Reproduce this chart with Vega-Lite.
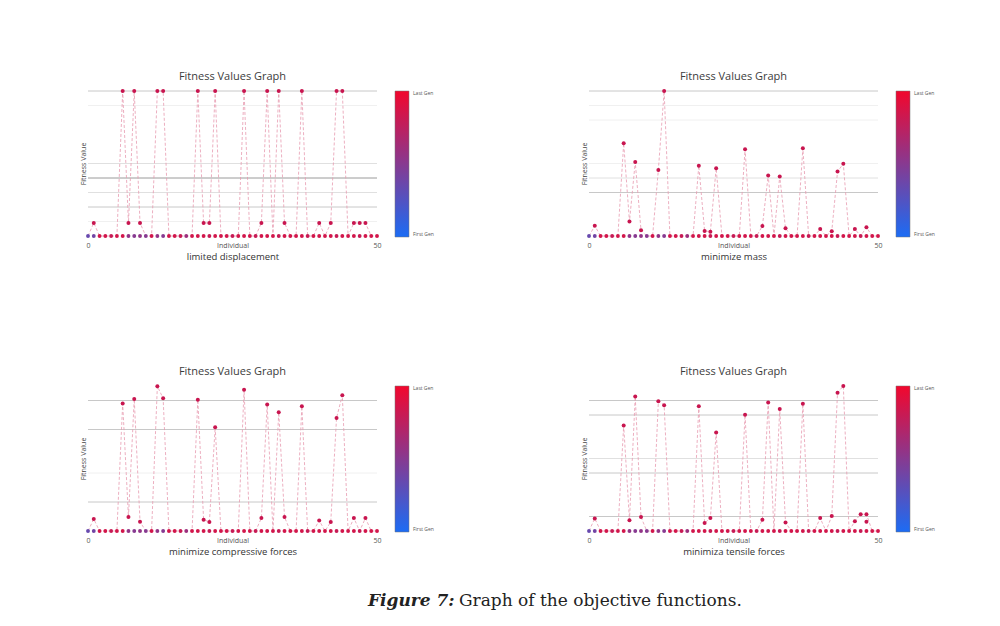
{
 "$schema": "https://vega.github.io/schema/vega-lite/v6.json",
 "background": "white",
 "padding": {"left": 79, "top": 71, "right": 10, "bottom": 10},
 "config": {"view": {"stroke": null}, "font": "Open Sans"},
 "datasets": {
  "ind": [
   {"x":0,"g":0.35,"a":0,"b":0,"c":0,"d":0},
   {"x":1,"g":0.4,"a":0.09,"b":0.07,"c":0.082,"d":0.087},
   {"x":2,"g":0.85,"a":0,"b":0,"c":0,"d":0},
   {"x":3,"g":0.85,"a":0,"b":0,"c":0,"d":0},
   {"x":4,"g":0.8,"a":0,"b":0,"c":0,"d":0},
   {"x":5,"g":0.85,"a":0,"b":0,"c":0,"d":0},
   {"x":6,"g":0.85,"a":1,"b":0.64,"c":0.879,"d":0.728},
   {"x":7,"g":0.55,"a":0.09,"b":0.1,"c":0.096,"d":0.075},
   {"x":8,"g":0.5,"a":1,"b":0.51,"c":0.911,"d":0.927},
   {"x":9,"g":0.55,"a":0.09,"b":0.04,"c":0.064,"d":0.096},
   {"x":10,"g":0.5,"a":0,"b":0,"c":0,"d":0},
   {"x":11,"g":0.85,"a":0,"b":0,"c":0,"d":0},
   {"x":12,"g":0.55,"a":1,"b":0.455,"c":0.998,"d":0.895},
   {"x":13,"g":0.5,"a":1,"b":1,"c":0.915,"d":0.868},
   {"x":14,"g":0.85,"a":0,"b":0,"c":0,"d":0},
   {"x":15,"g":0.85,"a":0,"b":0,"c":0,"d":0},
   {"x":16,"g":0.8,"a":0,"b":0,"c":0,"d":0},
   {"x":17,"g":0.6,"a":0,"b":0,"c":0,"d":0},
   {"x":18,"g":0.85,"a":0,"b":0,"c":0,"d":0},
   {"x":19,"g":0.85,"a":1,"b":0.485,"c":0.906,"d":0.861},
   {"x":20,"g":0.85,"a":0.09,"b":0.035,"c":0.078,"d":0.055},
   {"x":21,"g":0.8,"a":0.09,"b":0.03,"c":0.062,"d":0.089},
   {"x":22,"g":0.85,"a":1,"b":0.467,"c":0.716,"d":0.68},
   {"x":23,"g":0.85,"a":0,"b":0,"c":0,"d":0},
   {"x":24,"g":0.85,"a":0,"b":0,"c":0,"d":0},
   {"x":25,"g":0.8,"a":0,"b":0,"c":0,"d":0},
   {"x":26,"g":0.85,"a":0,"b":0,"c":0,"d":0},
   {"x":27,"g":0.85,"a":1,"b":0.598,"c":0.975,"d":0.801},
   {"x":28,"g":0.85,"a":0,"b":0,"c":0,"d":0},
   {"x":29,"g":0.8,"a":0,"b":0,"c":0,"d":0},
   {"x":30,"g":0.85,"a":0.09,"b":0.069,"c":0.089,"d":0.078},
   {"x":31,"g":0.85,"a":1,"b":0.418,"c":0.872,"d":0.886},
   {"x":32,"g":0.85,"a":0,"b":0,"c":0,"d":0},
   {"x":33,"g":0.8,"a":1,"b":0.411,"c":0.819,"d":0.842},
   {"x":34,"g":0.85,"a":0.09,"b":0.053,"c":0.096,"d":0.059},
   {"x":35,"g":0.85,"a":0,"b":0,"c":0,"d":0},
   {"x":36,"g":0.85,"a":0,"b":0,"c":0,"d":0},
   {"x":37,"g":0.85,"a":1,"b":0.605,"c":0.86,"d":0.877},
   {"x":38,"g":0.8,"a":0,"b":0,"c":0,"d":0},
   {"x":39,"g":0.85,"a":0,"b":0,"c":0,"d":0},
   {"x":40,"g":0.85,"a":0.09,"b":0.048,"c":0.073,"d":0.089},
   {"x":41,"g":0.85,"a":0,"b":0,"c":0,"d":0},
   {"x":42,"g":0.85,"a":0.09,"b":0.032,"c":0.062,"d":0.103},
   {"x":43,"g":0.8,"a":1,"b":0.444,"c":0.78,"d":0.954},
   {"x":44,"g":0.85,"a":1,"b":0.499,"c":0.936,"d":1},
   {"x":45,"g":0.85,"a":0,"b":0,"c":0,"d":0},
   {"x":46,"g":0.85,"a":0.09,"b":0.048,"c":0.089,"d":0.068},
   {"x":47,"g":0.8,"a":0.09,"b":0,"c":0,"d":0.116},
   {"x":48,"g":0.85,"a":0.09,"b":0.06,"c":0.089,"d":0.116},
   {"x":49,"g":0.85,"a":0,"b":0,"c":0,"d":0},
   {"x":50,"g":0.85,"a":0,"b":0,"c":0,"d":0}
  ],
  "extra": [{"x":48,"y":0.064}],
  "grid": [
   {"p":1,"v":1,"tone":"mid"},{"p":1,"v":0.9,"tone":"faint"},{"p":1,"v":0.5,"tone":"light"},{"p":1,"v":0.4,"tone":"dark"},{"p":1,"v":0.3,"tone":"light"},{"p":1,"v":0.2,"tone":"mid"},{"p":1,"v":0.1,"tone":"faint"},
   {"p":2,"v":1,"tone":"mid"},{"p":2,"v":0.9,"tone":"faint"},{"p":2,"v":0.8,"tone":"faint"},{"p":2,"v":0.5,"tone":"faint"},{"p":2,"v":0.4,"tone":"light"},{"p":2,"v":0.3,"tone":"mid"},
   {"p":3,"v":0.9,"tone":"mid"},{"p":3,"v":0.7,"tone":"mid"},{"p":3,"v":0.4,"tone":"faint"},{"p":3,"v":0.2,"tone":"mid"},
   {"p":4,"v":0.9,"tone":"mid"},{"p":4,"v":0.8,"tone":"mid"},{"p":4,"v":0.5,"tone":"light"},{"p":4,"v":0.4,"tone":"mid"},{"p":4,"v":0.1,"tone":"mid"}
  ]
 },
 "title": {"text": "Graph of the objective functions.", "orient": "bottom", "anchor": "start", "frame": "group", "dx": 371, "dy": -16, "offset": 0, "font": "DejaVu Serif", "fontSize": 17, "fontWeight": "normal", "color": "#222"},
 "resolve": {"scale": {"color": "independent", "stroke": "independent"}},
 "spacing": 105,
 "vconcat": [
  {
   "hconcat": [
    {
     "width": 289, "height": 145,
     "title": {"text": "Fitness Values Graph", "fontSize": 11, "fontWeight": "normal", "color": "#3c3c3c", "font": "Open Sans", "offset": 7, "frame": "group", "anchor": "middle"},
     "layer": [
      {"data": {"name": "grid"}, "transform": [{"filter": "datum.p == 1"}], "mark": {"type": "rule", "strokeWidth": 1},
       "encoding": {"y": {"field": "v", "type": "quantitative", "title": "Fitness Value", "scale": {"domain": [0, 1], "nice": false}, "axis": {"labels": false, "ticks": false, "domain": false, "grid": false, "titleFontSize": 7, "titleFontWeight": "normal", "titleColor": "#444", "titlePadding": 2, "titleFont": "Open Sans"}},
        "stroke": {"field": "tone", "type": "nominal", "scale": {"domain": ["faint", "light", "mid", "dark"], "range": ["#f0f0f0", "#e0e0e0", "#c8c8c8", "#9a9a9a"]}, "legend": null}}},
      {"data": {"name": "ind"}, "mark": {"type": "line", "strokeDash": [3, 2], "color": "#e79ab0", "strokeWidth": 0.8},
       "encoding": {"x": {"field": "x", "type": "quantitative", "title": "limited displacement", "scale": {"domain": [0, 50], "nice": false}, "axis": {"values": [0, 25, 50], "labelExpr": "datum.value == 25 ? 'Individual' : datum.label", "grid": false, "ticks": false, "domain": false, "labelFontSize": 7, "labelColor": "#555", "labelPadding": 5, "labelFont": "Open Sans", "labelFlush": false, "labelOverlap": false, "titleFontSize": 9.5, "titleFontWeight": "normal", "titleColor": "#333", "titlePadding": 3, "titleFont": "Open Sans"}},
        "y": {"field": "a", "type": "quantitative", "title": "Fitness Value"}}},
      {"data": {"name": "ind"}, "mark": {"type": "circle", "size": 15, "opacity": 1},
       "encoding": {"x": {"field": "x", "type": "quantitative", "title": "limited displacement"}, "y": {"datum": 0, "type": "quantitative"},
        "color": {"field": "g", "type": "quantitative", "scale": {"domain": [0, 1], "range": ["#1c6cf4", "#f2072d"], "interpolate": "rgb"}, "legend": {"title": null, "values": [0, 1], "labelExpr": "datum.value == 1 ? 'Last Gen' : 'First Gen'", "gradientLength": 146, "gradientThickness": 14, "labelFontSize": 5, "labelColor": "#555", "offset": 18, "gradientStrokeColor": "#777", "gradientStrokeWidth": 0.5, "direction": "vertical", "orient": "right", "labelOffset": 4}}}},
      {"data": {"name": "ind"}, "transform": [{"filter": "datum.a > 0"}], "mark": {"type": "circle", "size": 16, "color": "#c8154f", "opacity": 1},
       "encoding": {"x": {"field": "x", "type": "quantitative", "title": "limited displacement"}, "y": {"field": "a", "type": "quantitative", "title": "Fitness Value"}}}
     ]
    },
    {
     "width": 289, "height": 145,
     "title": {"text": "Fitness Values Graph", "fontSize": 11, "fontWeight": "normal", "color": "#3c3c3c", "font": "Open Sans", "offset": 7, "frame": "group", "anchor": "middle"},
     "layer": [
      {"data": {"name": "grid"}, "transform": [{"filter": "datum.p == 2"}], "mark": {"type": "rule", "strokeWidth": 1},
       "encoding": {"y": {"field": "v", "type": "quantitative", "title": "Fitness Value", "scale": {"domain": [0, 1], "nice": false}, "axis": {"labels": false, "ticks": false, "domain": false, "grid": false, "titleFontSize": 7, "titleFontWeight": "normal", "titleColor": "#444", "titlePadding": 2, "titleFont": "Open Sans"}},
        "stroke": {"field": "tone", "type": "nominal", "scale": {"domain": ["faint", "light", "mid", "dark"], "range": ["#f0f0f0", "#e0e0e0", "#c8c8c8", "#9a9a9a"]}, "legend": null}}},
      {"data": {"name": "ind"}, "mark": {"type": "line", "strokeDash": [3, 2], "color": "#e79ab0", "strokeWidth": 0.8},
       "encoding": {"x": {"field": "x", "type": "quantitative", "title": "minimize mass", "scale": {"domain": [0, 50], "nice": false}, "axis": {"values": [0, 25, 50], "labelExpr": "datum.value == 25 ? 'Individual' : datum.label", "grid": false, "ticks": false, "domain": false, "labelFontSize": 7, "labelColor": "#555", "labelPadding": 5, "labelFont": "Open Sans", "labelFlush": false, "labelOverlap": false, "titleFontSize": 9.5, "titleFontWeight": "normal", "titleColor": "#333", "titlePadding": 3, "titleFont": "Open Sans"}},
        "y": {"field": "b", "type": "quantitative", "title": "Fitness Value"}}},
      {"data": {"name": "ind"}, "mark": {"type": "circle", "size": 15, "opacity": 1},
       "encoding": {"x": {"field": "x", "type": "quantitative", "title": "minimize mass"}, "y": {"datum": 0, "type": "quantitative"},
        "color": {"field": "g", "type": "quantitative", "scale": {"domain": [0, 1], "range": ["#1c6cf4", "#f2072d"], "interpolate": "rgb"}, "legend": {"title": null, "values": [0, 1], "labelExpr": "datum.value == 1 ? 'Last Gen' : 'First Gen'", "gradientLength": 146, "gradientThickness": 14, "labelFontSize": 5, "labelColor": "#555", "offset": 18, "gradientStrokeColor": "#777", "gradientStrokeWidth": 0.5, "direction": "vertical", "orient": "right", "labelOffset": 4}}}},
      {"data": {"name": "ind"}, "transform": [{"filter": "datum.b > 0"}], "mark": {"type": "circle", "size": 16, "color": "#c8154f", "opacity": 1},
       "encoding": {"x": {"field": "x", "type": "quantitative", "title": "minimize mass"}, "y": {"field": "b", "type": "quantitative", "title": "Fitness Value"}}}
     ]
    }
   ],
   "spacing": 146,
   "resolve": {"scale": {"color": "independent", "stroke": "independent"}}
  },
  {
   "hconcat": [
    {
     "width": 289, "height": 145,
     "title": {"text": "Fitness Values Graph", "fontSize": 11, "fontWeight": "normal", "color": "#3c3c3c", "font": "Open Sans", "offset": 7, "frame": "group", "anchor": "middle"},
     "layer": [
      {"data": {"name": "grid"}, "transform": [{"filter": "datum.p == 3"}], "mark": {"type": "rule", "strokeWidth": 1},
       "encoding": {"y": {"field": "v", "type": "quantitative", "title": "Fitness Value", "scale": {"domain": [0, 1], "nice": false}, "axis": {"labels": false, "ticks": false, "domain": false, "grid": false, "titleFontSize": 7, "titleFontWeight": "normal", "titleColor": "#444", "titlePadding": 2, "titleFont": "Open Sans"}},
        "stroke": {"field": "tone", "type": "nominal", "scale": {"domain": ["faint", "light", "mid", "dark"], "range": ["#f0f0f0", "#e0e0e0", "#c8c8c8", "#9a9a9a"]}, "legend": null}}},
      {"data": {"name": "ind"}, "mark": {"type": "line", "strokeDash": [3, 2], "color": "#e79ab0", "strokeWidth": 0.8},
       "encoding": {"x": {"field": "x", "type": "quantitative", "title": "minimize compressive forces", "scale": {"domain": [0, 50], "nice": false}, "axis": {"values": [0, 25, 50], "labelExpr": "datum.value == 25 ? 'Individual' : datum.label", "grid": false, "ticks": false, "domain": false, "labelFontSize": 7, "labelColor": "#555", "labelPadding": 5, "labelFont": "Open Sans", "labelFlush": false, "labelOverlap": false, "titleFontSize": 9.5, "titleFontWeight": "normal", "titleColor": "#333", "titlePadding": 3, "titleFont": "Open Sans"}},
        "y": {"field": "c", "type": "quantitative", "title": "Fitness Value"}}},
      {"data": {"name": "ind"}, "mark": {"type": "circle", "size": 15, "opacity": 1},
       "encoding": {"x": {"field": "x", "type": "quantitative", "title": "minimize compressive forces"}, "y": {"datum": 0, "type": "quantitative"},
        "color": {"field": "g", "type": "quantitative", "scale": {"domain": [0, 1], "range": ["#1c6cf4", "#f2072d"], "interpolate": "rgb"}, "legend": {"title": null, "values": [0, 1], "labelExpr": "datum.value == 1 ? 'Last Gen' : 'First Gen'", "gradientLength": 146, "gradientThickness": 14, "labelFontSize": 5, "labelColor": "#555", "offset": 18, "gradientStrokeColor": "#777", "gradientStrokeWidth": 0.5, "direction": "vertical", "orient": "right", "labelOffset": 4}}}},
      {"data": {"name": "ind"}, "transform": [{"filter": "datum.c > 0"}], "mark": {"type": "circle", "size": 16, "color": "#c8154f", "opacity": 1},
       "encoding": {"x": {"field": "x", "type": "quantitative", "title": "minimize compressive forces"}, "y": {"field": "c", "type": "quantitative", "title": "Fitness Value"}}}
     ]
    },
    {
     "width": 289, "height": 145,
     "title": {"text": "Fitness Values Graph", "fontSize": 11, "fontWeight": "normal", "color": "#3c3c3c", "font": "Open Sans", "offset": 7, "frame": "group", "anchor": "middle"},
     "layer": [
      {"data": {"name": "grid"}, "transform": [{"filter": "datum.p == 4"}], "mark": {"type": "rule", "strokeWidth": 1},
       "encoding": {"y": {"field": "v", "type": "quantitative", "title": "Fitness Value", "scale": {"domain": [0, 1], "nice": false}, "axis": {"labels": false, "ticks": false, "domain": false, "grid": false, "titleFontSize": 7, "titleFontWeight": "normal", "titleColor": "#444", "titlePadding": 2, "titleFont": "Open Sans"}},
        "stroke": {"field": "tone", "type": "nominal", "scale": {"domain": ["faint", "light", "mid", "dark"], "range": ["#f0f0f0", "#e0e0e0", "#c8c8c8", "#9a9a9a"]}, "legend": null}}},
      {"data": {"name": "ind"}, "mark": {"type": "line", "strokeDash": [3, 2], "color": "#e79ab0", "strokeWidth": 0.8},
       "encoding": {"x": {"field": "x", "type": "quantitative", "title": "minimiza tensile forces", "scale": {"domain": [0, 50], "nice": false}, "axis": {"values": [0, 25, 50], "labelExpr": "datum.value == 25 ? 'Individual' : datum.label", "grid": false, "ticks": false, "domain": false, "labelFontSize": 7, "labelColor": "#555", "labelPadding": 5, "labelFont": "Open Sans", "labelFlush": false, "labelOverlap": false, "titleFontSize": 9.5, "titleFontWeight": "normal", "titleColor": "#333", "titlePadding": 3, "titleFont": "Open Sans"}},
        "y": {"field": "d", "type": "quantitative", "title": "Fitness Value"}}},
      {"data": {"name": "ind"}, "mark": {"type": "circle", "size": 15, "opacity": 1},
       "encoding": {"x": {"field": "x", "type": "quantitative", "title": "minimiza tensile forces"}, "y": {"datum": 0, "type": "quantitative"},
        "color": {"field": "g", "type": "quantitative", "scale": {"domain": [0, 1], "range": ["#1c6cf4", "#f2072d"], "interpolate": "rgb"}, "legend": {"title": null, "values": [0, 1], "labelExpr": "datum.value == 1 ? 'Last Gen' : 'First Gen'", "gradientLength": 146, "gradientThickness": 14, "labelFontSize": 5, "labelColor": "#555", "offset": 18, "gradientStrokeColor": "#777", "gradientStrokeWidth": 0.5, "direction": "vertical", "orient": "right", "labelOffset": 4}}}},
      {"data": {"name": "ind"}, "transform": [{"filter": "datum.d > 0"}], "mark": {"type": "circle", "size": 16, "color": "#c8154f", "opacity": 1},
       "encoding": {"x": {"field": "x", "type": "quantitative", "title": "minimiza tensile forces"}, "y": {"field": "d", "type": "quantitative", "title": "Fitness Value"}}},
      {"data": {"name": "extra"}, "mark": {"type": "circle", "size": 16, "color": "#c8154f", "opacity": 1},
       "encoding": {"x": {"field": "x", "type": "quantitative", "title": "minimiza tensile forces"}, "y": {"field": "y", "type": "quantitative", "title": "Fitness Value"}}}
     ]
    }
   ],
   "spacing": 146,
   "resolve": {"scale": {"color": "independent", "stroke": "independent"}},
   "title": {"text": "Figure 7:", "orient": "bottom", "anchor": "start", "frame": "group", "dx": 280, "offset": 37, "font": "DejaVu Serif", "fontSize": 17, "fontWeight": "bold", "fontStyle": "italic", "color": "#222"}
  }
 ]
}
